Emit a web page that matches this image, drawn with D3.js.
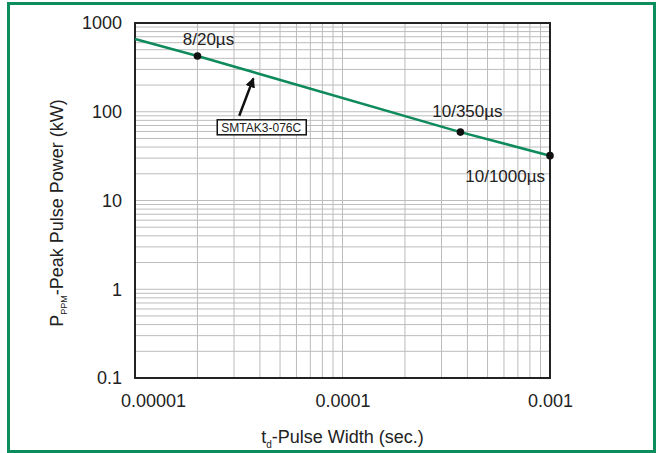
<!DOCTYPE html>
<html>
<head>
<meta charset="utf-8">
<script src="https://cdn.jsdelivr.net/npm/d3@7"></script>
<style>
  body { margin: 0; background: #fff; }
  text { font-family: "Liberation Sans", Arial, sans-serif; fill: #222; }
</style>
</head>
<body>
<svg id="chart" width="660" height="453"></svg>
<script>
// pulse width (s) vs peak pulse power (kW)
const pulseWidth = [0.00001, 0.00002, 0.00037, 0.001];
const peakPower = [660, 425, 59, 32];

// labelled waveform points
const markerNames = ["8/20µs", "10/350µs", "10/1000µs"];
const markerWidth = [0.00002, 0.00037, 0.001];
const markerPower = [425, 59, 32];

const xTicks = [0.00001, 0.0001, 0.001];
const xTickLabels = ["0.00001", "0.0001", "0.001"];
const yTicks = [0.1, 1, 10, 100, 1000];
const yTickLabels = ["0.1", "1", "10", "100", "1000"];

const partName = "SMTAK3-076C";

const margin = {top: 23, right: 110, bottom: 75, left: 135};
const width = 660 - margin.left - margin.right;
const height = 453 - margin.top - margin.bottom;

const svg = d3.select("#chart");

// green frame round the figure
svg.append("rect")
    .attr("x", 8.5).attr("y", 3.5)
    .attr("width", 646).attr("height", 448)
    .attr("fill", "none")
    .attr("stroke", "#0b8d5d")
    .attr("stroke-width", 3);

const g = svg.append("g")
    .attr("transform", "translate(" + margin.left + "," + margin.top + ")");

const x = d3.scaleLog().domain([0.00001, 0.001]).range([0, width]);
const y = d3.scaleLog().domain([0.1, 1000]).range([height, 0]);

// minor grid values for each decade
function decadeLines(lo, hi) {
    const out = [];
    for (let e = Math.log10(lo); e < Math.log10(hi); e++) {
        for (let k = 2; k <= 9; k++) out.push(k * Math.pow(10, e));
    }
    for (let e = Math.log10(lo); e <= Math.log10(hi); e++) out.push(Math.pow(10, e));
    return out;
}

g.append("g").selectAll("line")
    .data(decadeLines(0.00001, 0.001))
    .enter().append("line")
    .attr("x1", d => x(d)).attr("x2", d => x(d))
    .attr("y1", 0).attr("y2", height)
    .attr("stroke", "#bcbcbc").attr("stroke-width", 1);

g.append("g").selectAll("line")
    .data(decadeLines(0.1, 1000))
    .enter().append("line")
    .attr("x1", 0).attr("x2", width)
    .attr("y1", d => y(d)).attr("y2", d => y(d))
    .attr("stroke", "#bcbcbc").attr("stroke-width", 1);

// plot border
g.append("rect")
    .attr("width", width).attr("height", height)
    .attr("fill", "none")
    .attr("stroke", "#222").attr("stroke-width", 2);

// axes (labels only)
const xAxis = g.append("g")
    .attr("transform", "translate(0," + height + ")")
    .call(d3.axisBottom(x).tickValues(xTicks).tickSize(0).tickPadding(16)
        .tickFormat((d, i) => xTickLabels[i]));
xAxis.select(".domain").remove();
xAxis.selectAll("text").style("font-size", "18px").style("fill", "#222")
    .attr("font-family", null);
xAxis.select(".tick text").attr("dx", 18);

const yAxis = g.append("g")
    .call(d3.axisLeft(y).tickValues(yTicks).tickSize(0).tickPadding(13)
        .tickFormat((d, i) => yTickLabels[i]));
yAxis.select(".domain").remove();
yAxis.selectAll("text").style("font-size", "18px").style("fill", "#222")
    .attr("font-family", null);

// curve
const line = d3.line()
    .x(d => x(d[0]))
    .y(d => y(d[1]));

g.append("path")
    .datum(d3.zip(pulseWidth, peakPower))
    .attr("d", line)
    .attr("fill", "none")
    .attr("stroke", "#0e8a5c")
    .attr("stroke-width", 2.5);

// markers
const markers = d3.zip(markerWidth, markerPower, markerNames);
g.selectAll(".dot")
    .data(markers)
    .enter().append("circle")
    .attr("class", "dot")
    .attr("cx", d => x(d[0]))
    .attr("cy", d => y(d[1]))
    .attr("r", 3.8)
    .attr("fill", "#111");

const labelOffsets = [[11, -11, "middle"], [7, -15, "middle"], [-5, 26, "end"]];
g.selectAll(".mlabel")
    .data(markers)
    .enter().append("text")
    .attr("class", "mlabel")
    .attr("x", (d, i) => x(d[0]) + labelOffsets[i][0])
    .attr("y", (d, i) => y(d[1]) + labelOffsets[i][1])
    .attr("text-anchor", (d, i) => labelOffsets[i][2])
    .style("font-size", "17px")
    .text(d => d[2]);

// part name callout with arrow
svg.append("defs").append("marker")
    .attr("id", "head")
    .attr("viewBox", "0 0 10 10")
    .attr("refX", 9).attr("refY", 5)
    .attr("markerWidth", 4).attr("markerHeight", 4)
    .attr("orient", "auto")
    .append("path").attr("d", "M0,0L10,5L0,10Z").attr("fill", "#111");

const arrowFrom = [0.0000318, 90];
const arrowTo = [0.0000372, 238];
g.append("line")
    .attr("x1", x(arrowFrom[0])).attr("y1", y(arrowFrom[1]))
    .attr("x2", x(arrowTo[0])).attr("y2", y(arrowTo[1]))
    .attr("stroke", "#111").attr("stroke-width", 2.5)
    .attr("marker-end", "url(#head)");

const boxX = x(arrowFrom[0]) + 22;
const boxY = y(arrowFrom[1]) + 10;
g.append("rect")
    .attr("x", boxX - 44).attr("y", boxY - 6)
    .attr("width", 89).attr("height", 15)
    .attr("fill", "#fff")
    .attr("stroke", "#111").attr("stroke-width", 1.5);
g.append("text")
    .attr("x", boxX).attr("y", boxY + 6)
    .attr("text-anchor", "middle")
    .style("font-size", "12px")
    .text(partName);

// axis titles
const xt = svg.append("text")
    .attr("x", margin.left + width / 2)
    .attr("y", 443)
    .attr("text-anchor", "middle")
    .style("font-size", "18px");
xt.append("tspan").text("t");
xt.append("tspan").attr("dy", 5).style("font-size", "10px").text("d");
xt.append("tspan").attr("dy", -5).text("-Pulse Width (sec.)");

const yt = svg.append("text")
    .attr("transform", "translate(63," + 213 + ") rotate(-90)")
    .attr("text-anchor", "middle")
    .style("font-size", "18px");
yt.append("tspan").text("P");
yt.append("tspan").attr("dy", 4).style("font-size", "9px").text("PPM");
yt.append("tspan").attr("dy", -4).text("-Peak Pulse Power (kW)");
</script>
</body>
</html>
